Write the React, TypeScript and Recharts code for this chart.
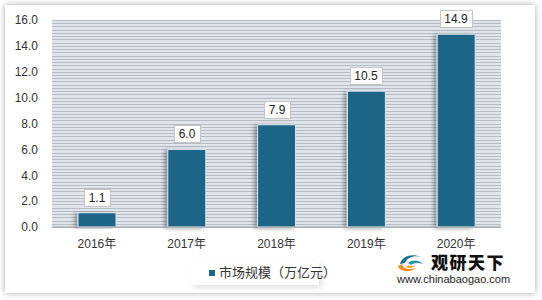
import { Bar, BarChart, CartesianGrid, LabelList, XAxis, YAxis } from 'recharts'

const years = ['2016年', '2017年', '2018年', '2019年', '2020年']
const marketSize = [1.1, 6.0, 7.9, 10.5, 14.9]
const yTicks = [0, 2, 4, 6, 8, 10, 12, 14, 16]
const seriesName = '市场规模（万亿元）'

const data = years.map((year, i) => ({ year, value: marketSize[i] }))

const FONT = '"Liberation Sans", Arial, "Noto Sans CJK SC", sans-serif'
const BAR_COLOR = '#1b6587'

// thin horizontal stripes across the plot area, 4 per 0.5 unit, snapped to pixels
function stripeLines({ offset }: any) {
  const n = 64
  return Array.from({ length: n + 1 }, (_, i) => Math.round(offset.top + (offset.height * i) / n) + 0.5)
}

function ValueBox(props: any) {
  const { x, y, width, value } = props
  const text = Number(value).toFixed(1)
  const w = text.length > 3 ? 32 : 26
  const h = 17
  const cx = Math.round(x + width / 2)
  const top = Math.round(y - 7 - h) + 0.5
  return (
    <g>
      <rect x={cx - w / 2 + 0.5} y={top} width={w} height={h} fill="#fff" stroke="#c4c4c4" />
      <text
        x={cx}
        y={top + h / 2}
        dy="0.36em"
        textAnchor="middle"
        fontSize={12}
        fontFamily={FONT}
        fill="#222"
      >
        {text}
      </text>
    </g>
  )
}

function LegendBox() {
  return (
    <div
      style={{
        position: 'absolute',
        left: 191,
        top: 261,
        width: 128,
        height: 24,
        background: '#fff',
        boxShadow: '3px 3px 6px rgba(0,0,0,0.12)',
        fontFamily: FONT,
        fontSize: 13,
        color: '#333',
      }}
    >
      <div
        style={{
          position: 'absolute',
          left: 18,
          top: 9,
          width: 6,
          height: 6,
          background: BAR_COLOR,
        }}
      />
      <div style={{ position: 'absolute', left: 28, top: 3, lineHeight: '17px', whiteSpace: 'nowrap' }}>
        {seriesName}
      </div>
    </div>
  )
}

function Watermark() {
  return (
    <div style={{ position: 'absolute', left: 396, top: 251, width: 120, height: 36 }}>
      <svg width={30} height={22} style={{ position: 'absolute', left: 0, top: 0 }}>
        <path d="M4 13 C6 5 16 2 25 6 C19 4 11 6 9 12 Z" fill="#1b6f8f" />
        <path d="M12 12 C16 8 23 9 27 13 C22 11 17 12 15 14 Z" fill="#2a93b5" />
        <path d="M2 15 C4 21 14 22 20 17 C14 19 7 18 6 13 Z" fill="#f28c1e" />
        <path d="M10 16 C13 18 17 17 19 15 C16 15 13 15 12 14 Z" fill="#f6a53a" />
      </svg>
      <div
        style={{
          position: 'absolute',
          left: 35,
          top: 2,
          fontFamily: '"Noto Sans CJK SC", sans-serif',
          fontWeight: 900,
          fontSize: 17,
          letterSpacing: 1.5,
          lineHeight: '18px',
          color: '#111',
          whiteSpace: 'nowrap',
        }}
      >
        观研天下
      </div>
      <div
        style={{
          position: 'absolute',
          left: 1,
          top: 22,
          fontFamily: FONT,
          fontSize: 11,
          lineHeight: '12px',
          color: '#222',
          whiteSpace: 'nowrap',
        }}
      >
        www.chinabaogao.com
      </div>
    </div>
  )
}

export default function App() {
  return (
    <div style={{ position: 'absolute', left: 0, top: 0, width: 542, height: 300, background: '#fff' }}>
      <div
        style={{
          position: 'absolute',
          left: 5,
          top: 5,
          width: 530,
          height: 288,
          background: '#fff',
          boxShadow: '0 0 6px rgba(0,0,0,0.35)',
        }}
      />
      <div style={{ position: 'absolute', left: 0, top: 0 }}>
        <BarChart
          width={542}
          height={300}
          data={data}
          margin={{ top: 20, right: 41, bottom: 43, left: 0 }}
        >
          <defs>
            <filter id="barShadow" x="-40%" y="-10%" width="160%" height="120%">
              <feDropShadow dx={-3} dy={1} stdDeviation={2} floodColor="#000" floodOpacity={0.35} />
            </filter>
          </defs>
          <CartesianGrid
            vertical={false}
            fill="#dfe5ea"
            fillOpacity={1}
            stroke="#b5bcc3"
            horizontalCoordinatesGenerator={stripeLines}
          />
          <XAxis
            dataKey="year"
            height={30}
            tickLine={false}
            tickSize={0}
            tickMargin={12}
            axisLine={{ stroke: '#9ea4aa' }}
            tick={{ fill: '#333', fontSize: 12, fontFamily: FONT }}
          />
          <YAxis
            width={52}
            domain={[0, 16]}
            ticks={yTicks}
            interval={0}
            axisLine={false}
            tickLine={false}
            tickSize={0}
            tickMargin={14}
            tick={{ fill: '#333', fontSize: 12, fontFamily: FONT }}
            tickFormatter={(v) => Number(v).toFixed(1)}
          />
          <Bar
            dataKey="value"
            name={seriesName}
            fill={BAR_COLOR}
            stroke="#e3e9ee"
            strokeWidth={1}
            barSize={38}
            filter="url(#barShadow)"
            isAnimationActive={false}
          >
            <LabelList dataKey="value" content={ValueBox} />
          </Bar>
        </BarChart>
      </div>
      <LegendBox />
      <Watermark />
    </div>
  )
}
